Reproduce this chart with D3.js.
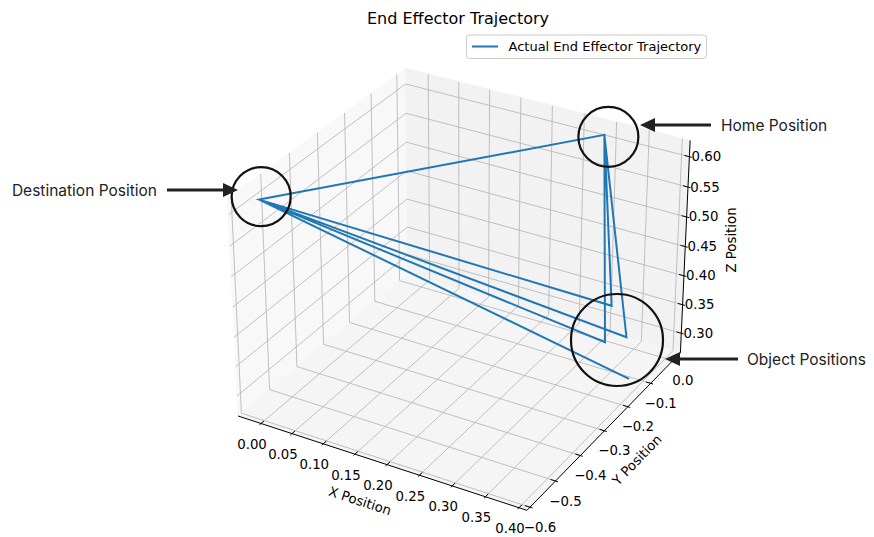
<!DOCTYPE html>
<html lang="en">
<head>
<meta charset="UTF-8" />
<title>End Effector Trajectory</title>
<style>
  body { margin: 0; padding: 0; background: #fff; }
  svg { display: block; font-family: "DejaVu Sans", sans-serif; }
  .tick-label { font-size: 13.3px; fill: #000; }
  .axis-label { font-size: 13.3px; fill: #000; }
  .note { font-family: Inter, "Noto Sans", sans-serif; font-size: 15.5px; fill: #222; }
</style>
</head>
<body>
<svg id="chart" width="874" height="537"></svg>
<script src="https://d3js.org/d3.v7.min.js"></script>
<script>
// end effector positions in the order they were visited (metres)
const trajX = [0.290, 0.313, -0.017, 0.290, 0.343, -0.017, 0.290, 0.323, -0.017, 0.390];
const trajY = [0.011, 0.000, -0.551, 0.011, -0.015, -0.551, 0.011, -0.054, -0.551, -0.135];
const trajZ = [0.610, 0.330, 0.609, 0.610, 0.290, 0.609, 0.610, 0.290, 0.609, 0.280];

const xTicks = [0.00, 0.05, 0.10, 0.15, 0.20, 0.25, 0.30, 0.35, 0.40];
const yTicks = [-0.6, -0.5, -0.4, -0.3, -0.2, -0.1, 0.0];
const zTicks = [0.30, 0.35, 0.40, 0.45, 0.50, 0.55, 0.60];

const xLim = [-0.0375, 0.4117];
const yLim = [-0.6118, 0.0344];
const zLim = [0.2654, 0.6265];

const svg = d3.select("#chart");
const W = 874, H = 537;
svg.append("rect").attr("width", W).attr("height", H).attr("fill", "#fff");

// ---- matplotlib style 3d projection (elev 30, azim -60, persp) ----
const elev = 30, azim = -60, dist = 10;
const raw = [4, 4, 3];
const nrm = Math.hypot(...raw);
const box = raw.map(a => a * 1.8294640721620434 * 25 / 24 / nrm);

const bx = d3.scaleLinear().domain(xLim).range([0, box[0]]);
const by = d3.scaleLinear().domain(yLim).range([0, box[1]]);
const bz = d3.scaleLinear().domain(zLim).range([0, box[2]]);

const er = elev * Math.PI / 180, ar = azim * Math.PI / 180;
const wv = [Math.cos(er) * Math.cos(ar), Math.cos(er) * Math.sin(ar), Math.sin(er)];
const R = box.map(b => b / 2);
const eye = R.map((r, i) => r + dist * wv[i]);
const cross = (a, b) => [a[1] * b[2] - a[2] * b[1], a[2] * b[0] - a[0] * b[2], a[0] * b[1] - a[1] * b[0]];
const dot = (a, b) => a[0] * b[0] + a[1] * b[1] + a[2] * b[2];
let uv = cross([0, 0, 1], wv);
const ul = Math.hypot(...uv);
uv = uv.map(d => d / ul);
const vv = cross(wv, uv);

// projected view coords -> pixels
const sx = d3.scaleLinear().domain([0, 0.1]).range([463.3, 463.3 + 278]);
const sy = d3.scaleLinear().domain([0, 0.1]).range([278.7, 278.7 - 278]);

function project(x, y, z) {
  const p = [bx(x) - eye[0], by(y) - eye[1], bz(z) - eye[2]];
  const vz = dot(wv, p);
  return [sx(dot(uv, p) / -vz), sy(dot(vv, p) / -vz)];
}

const line = d3.line();
const [x0, x1] = xLim, [y0, y1] = yLim, [z0, z1] = zLim;

// ---- panes ----
const panes = [
  { pts: [[x0, y0, z0], [x0, y1, z0], [x0, y1, z1], [x0, y0, z1]], c: "rgb(248,248,248)" },
  { pts: [[x0, y1, z0], [x1, y1, z0], [x1, y1, z1], [x0, y1, z1]], c: "rgb(242,242,242)" },
  { pts: [[x0, y0, z0], [x1, y0, z0], [x1, y1, z0], [x0, y1, z0]], c: "rgb(245,245,245)" }
];
svg.append("g").selectAll("path").data(panes).join("path")
  .attr("d", d => line(d.pts.map(p => project(...p))) + "Z")
  .attr("fill", d => d.c)
  .attr("stroke", d => d.c);

// ---- grid ----
const grid = [];
xTicks.forEach(t => grid.push([[t, y0, z0], [t, y1, z0], [t, y1, z1]]));
yTicks.forEach(t => grid.push([[x1, t, z0], [x0, t, z0], [x0, t, z1]]));
zTicks.forEach(t => grid.push([[x0, y0, t], [x0, y1, t], [x1, y1, t]]));
svg.append("g").selectAll("path").data(grid).join("path")
  .attr("d", d => line(d.map(p => project(...p))))
  .attr("fill", "none")
  .attr("stroke", "#b9b9b9")
  .attr("stroke-width", 0.9);

// ---- axis lines ----
const axes = [
  [[x0, y0, z0], [x1, y0, z0]],
  [[x1, y0, z0], [x1, y1, z0]],
  [[x1, y1, z0], [x1, y1, z1]]
];
svg.append("g").selectAll("path").data(axes).join("path")
  .attr("d", d => line(d.map(p => project(...p))))
  .attr("stroke", "#000")
  .attr("stroke-width", 1);

// ---- ticks ----
const dx12 = (x1 - x0) / 12, dy12 = (y1 - y0) / 12;
const tickG = svg.append("g").attr("stroke", "#000").attr("stroke-width", 1);
xTicks.forEach(t => tickG.append("path")
  .attr("d", line([project(t, y0 + 0.2 * dy12, z0), project(t, y0 - 0.1 * dy12, z0)])));
yTicks.forEach(t => tickG.append("path")
  .attr("d", line([project(x1 - 0.2 * dx12, t, z0), project(x1 + 0.1 * dx12, t, z0)])));
zTicks.forEach(t => tickG.append("path")
  .attr("d", line([project(x1 - 0.2 * dx12, y1, t), project(x1 + 0.1 * dx12, y1, t)])));

const fx = d3.format(".2f"), fy = d3.format(".1f"), fz = d3.format(".2f");
const labG = svg.append("g").attr("class", "tick-label");
labG.selectAll(".xl").data(xTicks).join("text")
  .attr("x", d => project(d, y0, z0)[0] - 9)
  .attr("y", d => project(d, y0, z0)[1] + 21)
  .attr("text-anchor", "middle").attr("dominant-baseline", "central")
  .text(fx);
labG.selectAll(".yl").data(yTicks).join("text")
  .attr("x", d => project(x1, d, z0)[0] + 10)
  .attr("y", d => project(x1, d, z0)[1] + 20)
  .attr("text-anchor", "middle").attr("dominant-baseline", "central")
  .text(fy);
labG.selectAll(".zl").data(zTicks).join("text")
  .attr("x", d => project(x1, y1, d)[0] + 17)
  .attr("y", d => project(x1, y1, d)[1])
  .attr("text-anchor", "middle").attr("dominant-baseline", "central")
  .text(fz);

// ---- axis titles ----
const axisTitles = [
  { t: "X Position", x: 360, y: 501, r: 18 },
  { t: "Y Position", x: 637, y: 460, r: -46 },
  { t: "Z Position", x: 731, y: 240, r: -90 }
];
svg.append("g").selectAll("text").data(axisTitles).join("text")
  .attr("class", "axis-label")
  .attr("text-anchor", "middle").attr("dominant-baseline", "central")
  .attr("transform", d => `translate(${d.x},${d.y}) rotate(${d.r})`)
  .text(d => d.t);

// ---- trajectory ----
const pts = trajX.map((x, i) => project(x, trajY[i], trajZ[i]));
svg.append("path")
  .attr("d", line(pts))
  .attr("fill", "none")
  .attr("stroke", "#1f77b4")
  .attr("stroke-width", 2)
  .attr("stroke-linejoin", "miter");

// ---- title & legend ----
svg.append("text")
  .attr("x", 458).attr("y", 24)
  .attr("text-anchor", "middle")
  .attr("font-size", "16px")
  .text("End Effector Trajectory");

const lg = svg.append("g");
lg.append("rect")
  .attr("x", 466.5).attr("y", 35).attr("width", 240).attr("height", 23.5)
  .attr("rx", 3).attr("fill", "rgba(255,255,255,0.8)").attr("stroke", "#cccccc");
lg.append("line")
  .attr("x1", 472).attr("x2", 498).attr("y1", 46.5).attr("y2", 46.5)
  .attr("stroke", "#1f77b4").attr("stroke-width", 2);
lg.append("text")
  .attr("x", 508.5).attr("y", 46.5).attr("dominant-baseline", "central")
  .attr("font-size", "13px")
  .text("Actual End Effector Trajectory");

// ---- annotations ----
const ann = svg.append("g");
const home = pts[0], dest = pts[2];
const circles = [
  { c: [home[0] + 4, home[1] + 2], r: 30 },
  { c: [dest[0] + 2, dest[1] - 3], r: 29.5 },
  { c: [617, 340], r: 46 }
];
ann.selectAll("circle").data(circles).join("circle")
  .attr("cx", d => d.c[0]).attr("cy", d => d.c[1]).attr("r", d => d.r)
  .attr("fill", "none").attr("stroke", "#111").attr("stroke-width", 2.2);

const arrows = [
  { from: [711, 125], tip: [640, 125] },
  { from: [167, 190], tip: [238, 190] },
  { from: [738, 359], tip: [665, 359] }
];
arrows.forEach(a => {
  const dir = Math.sign(a.tip[0] - a.from[0]);
  const base = a.tip[0] - dir * 15;
  ann.append("line")
    .attr("x1", a.from[0]).attr("y1", a.from[1]).attr("x2", base).attr("y2", a.tip[1])
    .attr("stroke", "#222").attr("stroke-width", 3);
  ann.append("path")
    .attr("d", `M${a.tip[0]},${a.tip[1]}L${base},${a.tip[1] - 7}L${base},${a.tip[1] + 7}Z`)
    .attr("fill", "#222");
});

const notes = [
  { t: "Home Position", x: 721, y: 125, a: "start" },
  { t: "Destination Position", x: 157, y: 190, a: "end" },
  { t: "Object Positions", x: 747, y: 359, a: "start" }
];
ann.selectAll("text").data(notes).join("text")
  .attr("class", "note")
  .attr("x", d => d.x).attr("y", d => d.y)
  .attr("text-anchor", d => d.a).attr("dominant-baseline", "central")
  .text(d => d.t);
</script>
</body>
</html>
